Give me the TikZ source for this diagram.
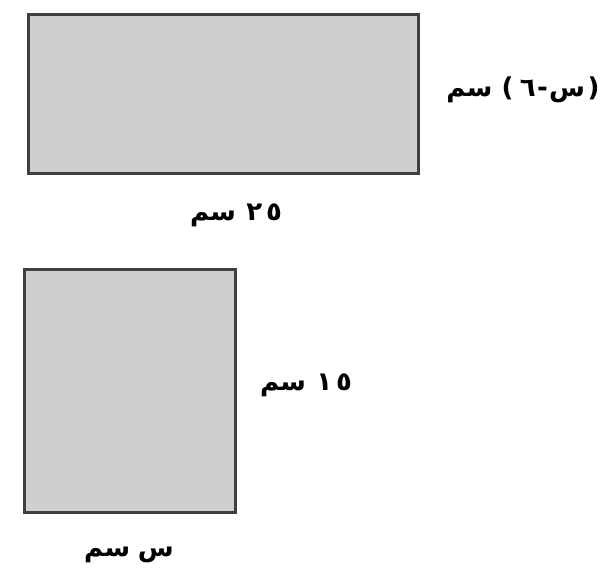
\documentclass[tikz,border=0pt]{standalone}
\usepackage{fontspec}
\newfontfamily\arabicfont[Script=Arabic,BoldFont={DejaVu Sans Bold}]{DejaVu Sans}
\tikzset{
  shape box/.style={draw=black!75, fill=black!19, line width=3pt},
  dimlabel/.style={font=\arabicfont\bfseries\fontsize{26}{30}\selectfont, inner sep=0pt}
}
\newcommand{\hb}[1]{\hbox{#1}}
\begin{document}
\begin{tikzpicture}[x=1pt,y=-1pt]
\useasboundingbox (0,0) rectangle (611,580);
\fill[white] (0,0) rectangle (611,580);
% top rectangle
\path[shape box] (28,15) rectangle (418,174);
% bottom rectangle
\path[shape box] (24.5,270) rectangle (235,512);
% labels
\node[dimlabel] (lblA) at (523,90) {\hb{سم}\hspace{0.35em}\hb{)}\hspace{0.25em}\hb{٦}\hspace{0.05em}\hb{-}\hspace{0.05em}\hb{س}\hspace{0.1em}\hb{(}};
\node[dimlabel] (lblB) at (236,215) {\hb{سم}\hspace{0.4em}\hb{٢}\hspace{0.15em}\hb{٥}};
\node[dimlabel] (lblC) at (306,385) {\hb{سم}\hspace{0.4em}\hb{١}\hspace{0.15em}\hb{٥}};
\node[dimlabel] (lblD) at (129,555) {\hb{سم}\hspace{0.3em}\hb{س}};
\end{tikzpicture}
\end{document}
